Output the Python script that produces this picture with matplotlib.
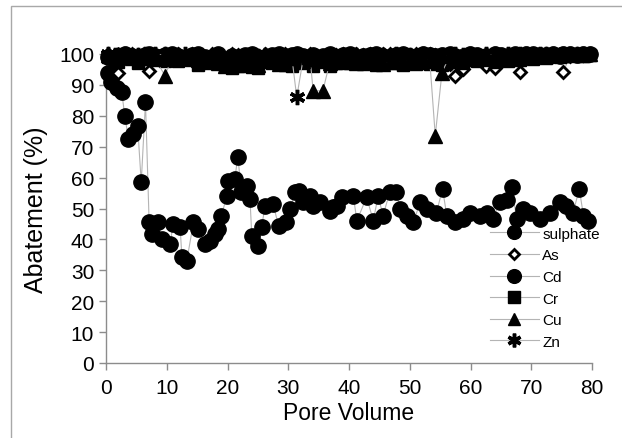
import matplotlib
matplotlib.use("Agg")
import matplotlib.pyplot as plt
from matplotlib.patches import Rectangle

plt.rcParams["font.family"] = ["Liberation Sans", "DejaVu Sans"]

# --------------------------------------------------------------------------- #
#  Data
# --------------------------------------------------------------------------- #
PV_S = [0.4, 0.9, 1.75, 2.6, 3.1, 3.7, 4.5, 5.2, 5.8, 6.5,
        7.1, 7.5, 8.6, 9.2, 10.5, 11.1, 12.2, 12.5, 13.3, 14.4,
        15.2, 16.3, 17.1, 17.9, 18.5, 19.0, 19.9, 20.1, 21.2, 21.7,
        22.3, 23.2, 23.7, 24.0, 25.1, 25.6, 26.2, 27.5, 28.4, 29.7,
        30.3, 31.1, 31.7, 32.5, 33.6, 34.1, 35.2, 36.9, 37.4, 38.0,
        38.8, 40.7, 41.3, 42.9, 44.0, 44.8, 45.6, 46.7, 47.8, 48.4,
        49.5, 50.6, 51.7, 52.8, 54.4, 55.4, 56.1, 57.4, 58.8, 59.9,
        61.6, 62.7, 63.7, 64.9, 66.0, 66.8, 67.6, 68.7, 69.8, 71.4,
        73.1, 74.7, 75.8, 76.9, 77.9, 78.6, 79.4]
SULPHATE = [93.9, 90.8, 88.9, 87.6, 79.8, 72.5, 74.1, 76.8, 58.5, 84.4,
            45.5, 41.7, 45.5, 40.1, 38.5, 45.0, 43.9, 34.2, 33.1, 45.5,
            43.4, 38.5, 39.6, 41.7, 43.4, 47.7, 54.1, 59.0, 59.5, 66.8,
            55.2, 57.4, 53.1, 41.2, 38.0, 43.9, 50.9, 51.5, 44.4, 45.5,
            49.8, 55.2, 55.8, 52.0, 54.1, 50.9, 52.0, 49.3, 50.4, 50.9,
            53.6, 54.1, 46.1, 53.6, 46.1, 54.1, 47.7, 55.2, 55.2, 49.8,
            47.7, 45.5, 52.0, 49.8, 48.7, 56.3, 47.7, 45.5, 46.6, 48.7,
            47.7, 48.7, 46.6, 52.0, 52.6, 56.8, 46.6, 49.8, 48.7, 46.6,
            48.7, 52.0, 50.9, 48.7, 56.3, 47.7, 46.1]

PV_M = [0.3, 1.4, 2.0, 3.1, 4.2, 5.3, 6.4, 7.0, 8.1, 9.7,
        10.8, 11.9, 13.0, 14.1, 15.2, 16.3, 17.4, 18.5, 19.6, 20.7,
        21.8, 22.9, 24.0, 25.1, 26.2, 27.3, 28.4, 29.5, 30.6, 31.4,
        32.5, 33.6, 34.1, 35.7, 36.8, 37.9, 39.0, 40.1, 41.2, 42.3,
        43.4, 44.5, 45.6, 46.7, 47.8, 48.9, 50.0, 51.1, 52.2, 53.3,
        54.2, 55.3, 56.6, 57.4, 58.8, 59.9, 61.0, 62.6, 64.0, 65.1,
        66.2, 67.3, 68.1, 69.2, 70.3, 71.4, 72.5, 73.6, 74.7, 75.3,
        76.4, 77.5, 78.6, 79.7]
AS = [100, 99.5, 94, 99, 100, 99.6, 98.8, 94.6, 99.5, 100,
      99.8, 100, 99.2, 100, 99.6, 99, 100, 99.4, 98.5, 100,
      99.6, 99, 100, 99.5, 100, 99.2, 99.8, 100, 99.3, 100,
      99.5, 100, 99.8, 99.1, 100, 99.6, 100, 99.4, 100, 99.7,
      100, 99.2, 99.9, 100, 99.5, 100, 99.7, 100, 99.4, 100,
      99.6, 98.5, 96.8, 93, 95.3, 99, 98.6, 96.2, 95.6, 99.5,
      99.8, 99, 94.3, 99.5, 100, 99.6, 100, 99.2, 99.8, 94.3,
      99.5, 100, 99.7, 100]
CD = [99, 98.5, 99.5, 100, 99.2, 98, 99.6, 100, 99.3, 99.8,
      100, 99.5, 98.8, 99.7, 100, 99.1, 98.6, 99.9, 97.5, 99.4,
      98.2, 99.6, 100, 99, 98.5, 99.8, 100, 99.3, 99.7, 100,
      99.2, 98.9, 99.8, 99.5, 100, 99.1, 99.6, 100, 98.8, 99.4,
      99.7, 100, 99.2, 98.6, 99.8, 100, 99.5, 99.1, 100, 99.6,
      99.3, 99.8, 100, 99.5, 99.1, 100, 99.7, 99.4, 100, 99.8,
      99.5, 100, 99.2, 99.9, 100, 99.6, 99.8, 100, 99.4, 99.9,
      100, 99.6, 99.9, 100]
CR = [99.0, 98.2, 97.5, 99.0, 99.5, 97.0, 98.5, 99.0, 99.5, 97.8,
      98.5, 97.8, 99.2, 98.6, 96.5, 98.0, 98.8, 97.0, 96.0, 95.5,
      96.2, 97.4, 95.8, 95.5, 97.8, 97.2, 98.5, 96.6, 96.2, 98.0,
      97.0, 98.2, 96.2, 97.5, 96.0, 97.0, 98.0, 97.2, 97.8, 96.8,
      97.2, 96.5, 97.0, 97.8, 97.0, 96.4, 97.5, 96.8, 97.2, 96.9,
      97.0, 96.4, 97.5, 97.8, 97.0, 98.2, 97.6, 98.0, 97.5, 98.2,
      97.8, 98.5, 98.2, 98.8, 98.5, 99.0, 98.8, 99.2, 99.0, 99.4,
      99.2, 99.6, 99.4, 99.6]
CU = [99.8, 99.5, 100, 99.2, 98.8, 99.6, 100, 99.4, 98.5, 93,
      98.4, 99.0, 99.2, 98.5, 98.0, 97.5, 98.7, 97.0, 96.2, 97.4,
      97.8, 96.5, 97.2, 96.4, 97.6, 98.2, 96.8, 98.0, 97.4, 98.2,
      97.6, 98.4, 88.1, 88.1, 97.0, 97.8, 97.4, 98.2, 97.2, 98.0,
      97.5, 98.0, 96.8, 97.4, 97.8, 97.3, 98.0, 97.6, 98.2, 97.8,
      73.6, 94.0, 99.5, 98.8, 99.2, 99.6, 99.3, 99.8, 99.5, 99.7,
      99.4, 99.8, 99.6, 99.9, 99.7, 100, 99.8, 99.9, 100, 99.7,
      99.9, 100, 99.8, 100]
ZN = [100, 99.6, 99.8, 100, 99.4, 99.7, 100, 99.5, 99.9, 100,
      99.6, 99.8, 100, 99.3, 99.7, 97.8, 99.5, 98.9, 97.2, 96.5,
      98.0, 97.0, 98.8, 99.2, 99.6, 98.5, 99.4, 98.2, 98.8, 86,
      99.0, 98.4, 99.3, 98.6, 99.5, 99.0, 99.6, 99.2, 99.8, 99.4,
      99.7, 99.3, 99.8, 99.5, 100, 99.6, 99.8, 99.5, 99.9, 99.7,
      99.4, 99.8, 99.6, 99.9, 99.7, 100, 99.8, 99.9, 100, 99.8,
      100, 99.7, 99.9, 100, 99.8, 100, 99.9, 100, 99.8, 100,
      100, 99.9, 100, 100]

X_TICKS = list(range(0, 81, 10))
Y_TICKS = list(range(0, 101, 10))

LINE_C = "#b4b4b4"
AXIS_C = "#8c8c8c"


def main():
    fig = plt.figure(figsize=(6.22, 4.39), dpi=100)
    ax = fig.add_axes([106 / 622, 1 - 364 / 439, 486 / 622, 309 / 439])

    common = dict(color=LINE_C, lw=0.8, clip_on=False)
    series = [
        (PV_S, SULPHATE, "sulphate", dict(marker="o", ms=11, mfc="black", mec="black")),
        (PV_M, AS, "As", dict(marker="D", ms=6, mfc="white", mec="black", mew=2)),
        (PV_M, CD, "Cd", dict(marker="o", ms=11, mfc="black", mec="black")),
        (PV_M, CR, "Cr", dict(marker="s", ms=9, mfc="black", mec="black")),
        (PV_M, CU, "Cu", dict(marker="^", ms=10, mfc="black", mec="black")),
        (PV_M, ZN, "Zn", dict(marker=(6, 2, 0), ms=11, mfc="black", mec="black", mew=2.5)),
    ]
    for x, y, name, style in series:
        ax.plot(x, y, label=name, zorder=3, **common, **style)

    ax.set_xlim(0, 80)
    ax.set_ylim(0, 100)
    ax.set_xticks(X_TICKS)
    ax.set_yticks(Y_TICKS)
    ax.tick_params(colors=AXIS_C, labelcolor="black", labelsize=15,
                   length=5, width=1, direction="out")
    ax.tick_params(axis="x", pad=6)
    for side in ("top", "right"):
        ax.spines[side].set_visible(False)
    for side in ("left", "bottom"):
        ax.spines[side].set_color(AXIS_C)
        ax.spines[side].set_linewidth(1)

    ax.set_xlabel("Pore Volume", fontsize=16.5, labelpad=3)
    ax.set_ylabel("Abatement (%)", fontsize=18, labelpad=8)

    leg = ax.legend(loc="upper left", bbox_to_anchor=(482 / 622, 1 - 220 / 439),
                    bbox_transform=fig.transFigure, frameon=False, fontsize=11,
                    handlelength=3.2, handletextpad=0.25, labelspacing=0.5,
                    borderpad=0, markerscale=0.9)
    leg.set_zorder(1)

    # outer chart border
    fig.patches.append(Rectangle((11 / 622, -0.2), 1.5, 1 - 7 / 439 + 0.2,
                                 transform=fig.transFigure, fill=False,
                                 edgecolor="#a8a8a8", lw=1))

    fig.savefig("out.png", dpi=100)
    plt.close(fig)


if __name__ == "__main__":
    main()
